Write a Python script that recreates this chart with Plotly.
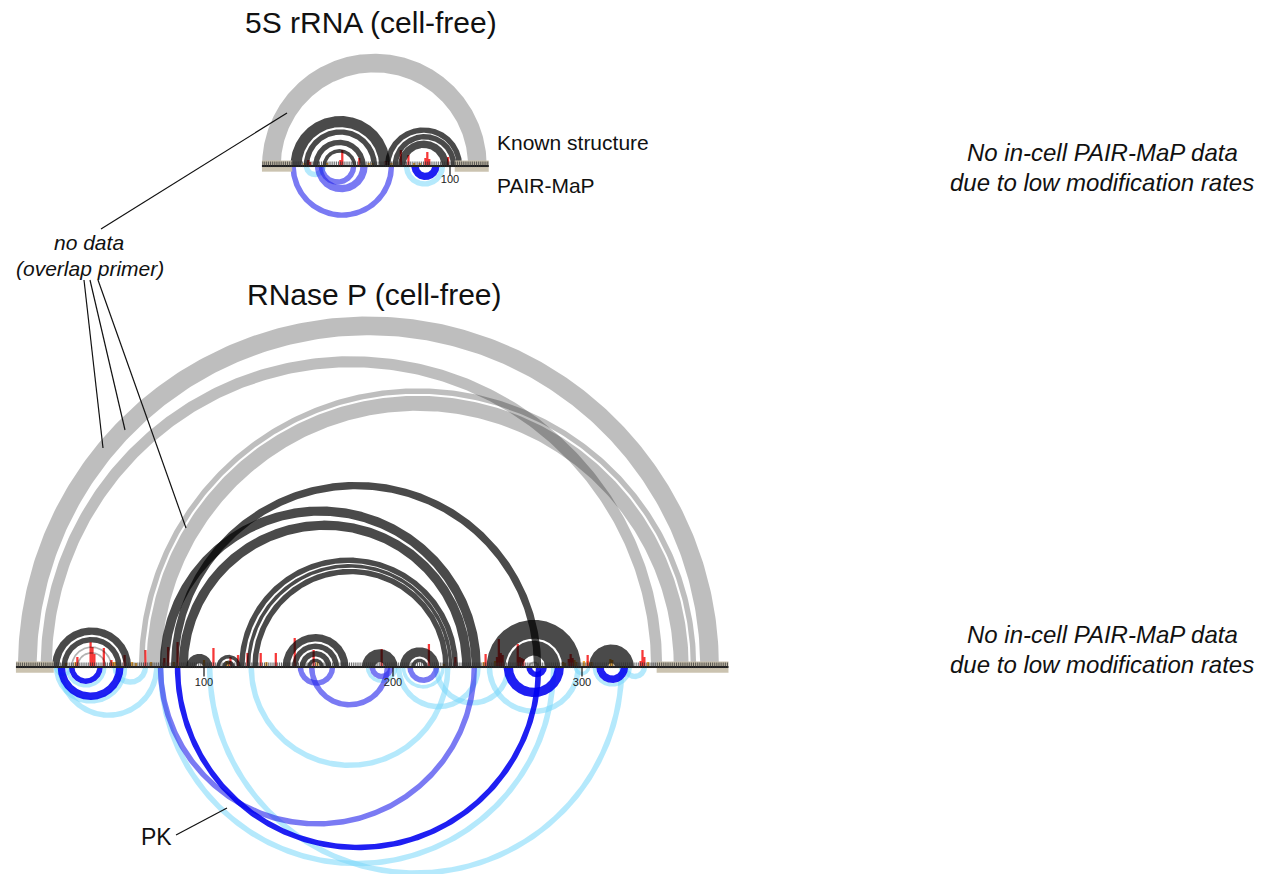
import numpy as np
import plotly.graph_objects as go

W, H = 1266, 874
PX = 1.89                      # pixels per nucleotide (both directions)
RP_X0, RP_Y0 = 15, 667         # pixel position of nt 0 / baseline, RNase P
S5_X0, S5_Y0 = 261, 166        # pixel position of nt 0 / baseline, 5S rRNA

# ---------------- RNase P RNA ----------------
RNASEP_LEN = 377
rnasep_primer = [(0.5, 20.5), (339.5, 377.5)]
# helices as (first nt, partner nt, number of stacked pairs)
rnasep_known = [(20, 61, 4), (25, 56, 3), (91, 104, 5), (107, 119, 2), (110, 116, 2),
                (77, 246, 5), (83, 278, 4), (87, 241, 5),
                (119, 234, 3), (123, 231, 2), (126, 229, 3),
                (142, 176, 4), (147, 171, 3), (151, 167, 3), (155, 163, 2),
                (184, 202, 7), (204, 224, 5), (210, 218, 2),
                (250, 299, 10), (261, 288, 8), (304, 327, 10)]
rnasep_faint = [(30, 51, 1), (33, 48, 1), (272, 277, 1)]
rnasep_nodata = [(2, 372, 10), (14, 342, 6), (66, 360, 3), (70, 356, 8)]
rnasep_pm_weak = [(21, 59, 3), (27, 48, 2), (21, 30, 2), (52, 70, 3), (23, 76, 3),
                  (76, 286, 3), (102, 322, 3), (124, 230, 3), (186, 202, 2),
                  (205, 227, 2), (202, 246, 3), (222, 262, 3), (250, 299, 3),
                  (306, 326, 2), (322, 334, 3), (296, 304, 2)]
rnasep_pm_medium = [(76, 244, 3), (156, 198, 3), (150, 169, 3), (188, 200, 3), (208, 224, 3)]
rnasep_pm_strong = [(23, 57, 4), (29, 46, 3), (85, 278, 3), (259, 290, 5), (271, 281, 3),
                    (308, 324, 4)]
rnasep_high_pos = [33, 40, 41, 42, 47, 51, 58, 69, 79, 81, 86, 105, 114, 118, 123, 130,
                   138, 148, 158, 194, 219, 233, 249, 255, 256, 257, 258, 266, 267, 268,
                   269, 293, 294, 295, 303, 331, 332, 333]
rnasep_high_val = [1.0, 2.5, 2.0, 1.3, 1.9, 0.7, 1.2, 1.7, 0.9, 2.0, 2.5, 1.9, 1.0, 1.2,
                   1.4, 1.4, 1.4, 2.9, 1.7, 1.8, 2.3, 1.0, 1.3, 1.0, 2.8, 1.4, 1.2, 2.3,
                   1.0, 0.9, 0.8, 0.8, 1.3, 0.9, 1.2, 0.6, 1.7, 1.0]
rnasep_mid_pos = [27, 32, 52, 53, 62, 64, 72, 84, 100, 112, 113, 133, 160, 227, 248, 254,
                  290, 291, 296, 297, 301, 303, 305, 315, 316, 335]
rnasep_mid_val = [0.4, 0.5, 0.5, 0.5, 0.5, 0.4, 0.5, 0.5, 0.7, 0.6, 0.5, 0.5, 0.5, 0.3,
                  0.5, 0.6, 0.5, 0.4, 0.7, 0.5, 0.6, 0.6, 0.5, 0.8, 0.7, 0.5]
rnasep_ticks = [100, 200, 300]

# ---------------- 5S rRNA ----------------
S5_LEN = 120
s5_primer = [(0.5, 16.5), (102.5, 120.5)]
s5_known = [(16, 68, 6), (23, 61, 3), (28, 55, 3), (33, 50, 2),
            (66, 106, 3), (70, 103, 3), (73, 99, 4)]
s5_nodata = [(1, 119, 10)]
s5_pm_weak = [(23, 34, 3), (76, 97, 3)]
s5_pm_medium = [(16, 70, 3), (29, 56, 4), (31, 50, 3)]
s5_pm_strong = [(80, 94, 4)]
s5_high_pos = [25, 26, 42, 43, 52, 66, 67, 74, 78, 87, 88, 89, 99]
s5_high_val = [0.6, 0.4, 0.6, 1.6, 0.8, 0.5, 0.5, 1.6, 1.1, 0.8, 1.4, 0.7, 0.9]
s5_mid_pos = [23, 35, 57, 59, 69, 81, 84]
s5_mid_val = [0.3, 0.3, 0.3, 0.3, 0.3, 0.3, 0.3]
s5_ticks = [100]

# ---------------- styles ----------------
KNOWN = "rgba(0,0,0,0.71)"
FAINT = "rgba(0,0,0,0.30)"
NODATA = "rgba(0,0,0,0.255)"
PM_STRONG = "rgba(0,0,240,0.88)"
PM_MEDIUM = "rgba(40,40,235,0.62)"
PM_WEAK = "rgba(120,215,250,0.55)"
HIGH = "rgba(245,20,20,0.85)"
MID = "rgba(245,165,35,0.9)"
PRIMER = "rgba(200,192,172,0.95)"
BAR_UNIT = 10 / PX
FONT = "Liberation Sans, Arial, sans-serif"

fig = go.Figure()


def band(i, j, n, direction, w=0.9, npts=260):
    c = (i + j) / 2.0
    half = (j - i) / 2.0
    r_out = half + w / 2
    r_in = max(half - (n - 1) - w / 2, 0.0)
    th = np.linspace(0, np.pi, npts)
    xo, yo = c + r_out * np.cos(th), direction * r_out * np.sin(th)
    xi, yi = c + r_in * np.cos(th[::-1]), direction * r_in * np.sin(th[::-1])
    return np.concatenate([xo, xi, xo[:1]]), np.concatenate([yo, yi, yo[:1]])


def add_helices(helices, direction, color, xa, ya):
    for (i, j, n) in helices:
        x, y = band(i, j, n, direction)
        fig.add_trace(go.Scatter(x=x, y=y, mode="lines", line=dict(width=0),
                                 fill="toself", fillcolor=color, hoverinfo="skip",
                                 xaxis=xa, yaxis=ya))


def add_bars(pos, val, color, xa, ya):
    fig.add_trace(go.Bar(x=pos, y=[v * BAR_UNIT for v in val], width=1.2,
                         marker=dict(color=color, line=dict(width=0)),
                         hoverinfo="skip", xaxis=xa, yaxis=ya))


def add_strand(length, primers, ticks, xa, ya, label_y):
    for (a, b) in primers:
        fig.add_trace(go.Scatter(x=[a, b, b, a, a], y=[-3.0, -3.0, 2.9, 2.9, -3.0],
                                 mode="lines", line=dict(width=0), fill="toself",
                                 fillcolor=PRIMER, hoverinfo="skip", xaxis=xa, yaxis=ya))
    fig.add_trace(go.Scatter(x=[0.5, length + 0.5], y=[0, 0], mode="lines",
                             line=dict(color="#1c1c1c", width=2.2), hoverinfo="skip",
                             xaxis=xa, yaxis=ya))
    nts = np.arange(1, length + 1)
    fig.add_trace(go.Scatter(x=nts, y=np.full(length, 0.9), mode="markers",
                             marker=dict(symbol="line-ns", size=4,
                                         line=dict(width=1, color="rgba(50,50,50,0.75)")),
                             hoverinfo="skip", xaxis=xa, yaxis=ya))
    for t in ticks:
        fig.add_trace(go.Scatter(x=[t, t], y=[0, -5.0], mode="lines",
                                 line=dict(color="#111111", width=1.2), hoverinfo="skip",
                                 xaxis=xa, yaxis=ya))
    fig.add_trace(go.Scatter(x=ticks, y=[label_y] * len(ticks), mode="text",
                             text=[str(t) for t in ticks],
                             textfont=dict(family=FONT, size=11, color="#222222"),
                             hoverinfo="skip", xaxis=xa, yaxis=ya))


# RNase P panel (x / y)
add_helices(rnasep_nodata, 1, NODATA, "x", "y")
add_helices(rnasep_faint, 1, FAINT, "x", "y")
add_helices(rnasep_known, 1, KNOWN, "x", "y")
add_helices(rnasep_pm_weak, -1, PM_WEAK, "x", "y")
add_helices(rnasep_pm_medium, -1, PM_MEDIUM, "x", "y")
add_helices(rnasep_pm_strong, -1, PM_STRONG, "x", "y")
add_bars(rnasep_mid_pos, rnasep_mid_val, MID, "x", "y")
add_bars(rnasep_high_pos, rnasep_high_val, HIGH, "x", "y")
add_strand(RNASEP_LEN, rnasep_primer, rnasep_ticks, "x", "y", -8.6)

# 5S panel (x2 / y2)
add_helices(s5_nodata, 1, NODATA, "x2", "y2")
add_helices(s5_known, 1, KNOWN, "x2", "y2")
add_helices(s5_pm_weak, -1, PM_WEAK, "x2", "y2")
add_helices(s5_pm_medium, -1, PM_MEDIUM, "x2", "y2")
add_helices(s5_pm_strong, -1, PM_STRONG, "x2", "y2")
add_bars(s5_mid_pos, s5_mid_val, MID, "x2", "y2")
add_bars(s5_high_pos, s5_high_val, HIGH, "x2", "y2")
add_strand(S5_LEN, s5_primer, s5_ticks, "x2", "y2", -7.6)


def px_x(p):
    return p / W


def px_y(p):
    return 1 - p / H


annotations = []


def label(text, x, y, size, anchor="center", italic=False):
    if italic:
        text = "<i>" + text + "</i>"
    annotations.append(dict(text=text, x=px_x(x), y=px_y(y), xref="paper", yref="paper",
                            xanchor=anchor, yanchor="middle", showarrow=False,
                            font=dict(family=FONT, size=size, color="#111111")))


label("5S rRNA (cell-free)", 371, 22, 30)
label("RNase P (cell-free)", 374, 294, 30)
label("Known structure", 495, 142, 21, anchor="left")
label("PAIR-MaP", 495, 186, 21, anchor="left")
label("no data", 89, 243, 21, italic=True)
label("(overlap primer)", 90, 268, 21, italic=True)
for yy in (153, 634):
    label("No in-cell PAIR-MaP data", 1102, yy, 24, italic=True)
    label("due to low modification rates", 1102, yy + 30, 24, italic=True)
label("PK", 156, 837, 23)

pointer_lines = [((287, 113), (101, 229)),
                 ((84, 280), (103, 448)),
                 ((90, 280), (125, 430)),
                 ((98, 280), (186, 528)),
                 ((176, 835), (227, 808))]
shapes = [dict(type="line", xref="paper", yref="paper",
               x0=px_x(a[0]), y0=px_y(a[1]), x1=px_x(b[0]), y1=px_y(b[1]),
               line=dict(color="#111111", width=1.2)) for a, b in pointer_lines]

fig.update_layout(
    width=W, height=H, autosize=False,
    margin=dict(l=0, r=0, t=0, b=0),
    paper_bgcolor="white", plot_bgcolor="white",
    showlegend=False, barmode="overlay",
    annotations=annotations, shapes=shapes,
    xaxis=dict(range=[-RP_X0 / PX, (W - RP_X0) / PX], visible=False, fixedrange=True),
    yaxis=dict(range=[-(H - RP_Y0) / PX, RP_Y0 / PX], visible=False, fixedrange=True),
    xaxis2=dict(range=[-S5_X0 / PX, (W - S5_X0) / PX], visible=False, fixedrange=True,
                overlaying="x", anchor="y2"),
    yaxis2=dict(range=[-(H - S5_Y0) / PX, S5_Y0 / PX], visible=False, fixedrange=True,
                overlaying="y", anchor="x2"),
)

fig.write_html("out.html")
